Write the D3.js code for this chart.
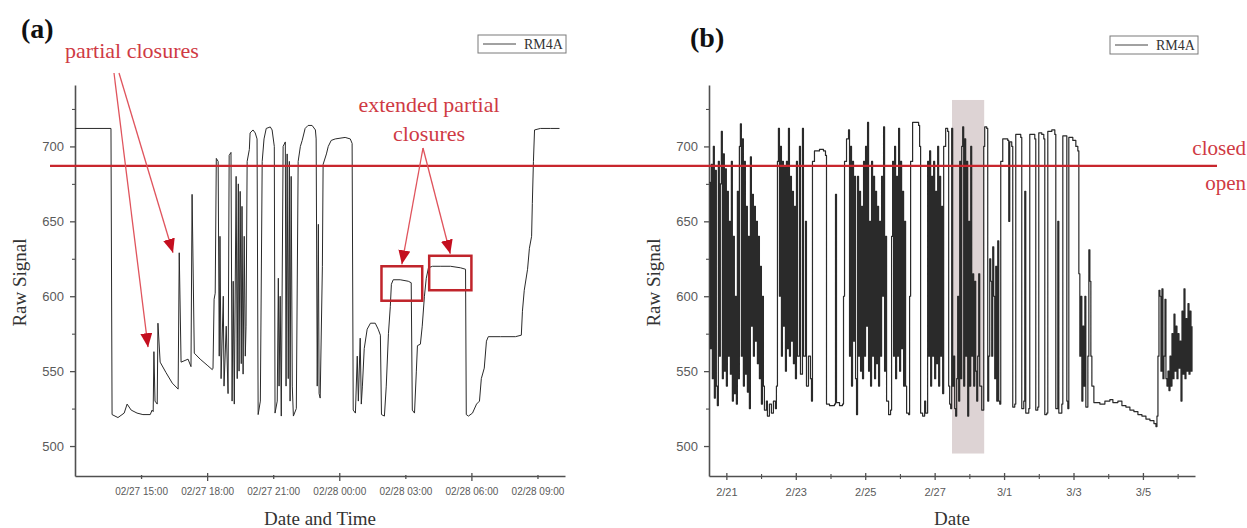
<!DOCTYPE html>
<html>
<head>
<meta charset="utf-8">
<title>RM4A raw signal</title>
<script src="https://cdn.jsdelivr.net/npm/d3@7/dist/d3.min.js"></script>
<style>
  html, body { margin: 0; padding: 0; background: #fff; }
  svg { display: block; }
</style>
</head>
<body>
<svg id="chart" width="1247" height="528"></svg>
<script>
const YEAR = 2017;
const seriesName = "RM4A";

// (a) 27–28 Feb: raw sensor signal
const timeA = [
  "02-27 12:00","02-27 13:38","02-27 13:41","02-27 13:57","02-27 14:14","02-27 14:22","02-27 14:33","02-27 14:49","02-27 15:05","02-27 15:25",
  "02-27 15:30","02-27 15:33","02-27 15:35","02-27 15:38","02-27 15:44","02-27 15:46","02-27 15:52","02-27 16:08","02-27 16:25","02-27 16:41",
  "02-27 16:44","02-27 16:49","02-27 17:08","02-27 17:16","02-27 17:19","02-27 17:25","02-27 17:41","02-27 18:00","02-27 18:14","02-27 18:16",
  "02-27 18:19","02-27 18:22","02-27 18:25","02-27 18:30","02-27 18:33","02-27 18:35","02-27 18:38","02-27 18:44","02-27 18:46","02-27 18:52",
  "02-27 18:57","02-27 19:00","02-27 19:05","02-27 19:08","02-27 19:11","02-27 19:14","02-27 19:19","02-27 19:22","02-27 19:25","02-27 19:27",
  "02-27 19:30","02-27 19:33","02-27 19:35","02-27 19:38","02-27 19:41","02-27 19:44","02-27 19:46","02-27 19:49","02-27 19:55","02-27 19:57",
  "02-27 20:05","02-27 20:11","02-27 20:16","02-27 20:19","02-27 20:25","02-27 20:30","02-27 20:35","02-27 20:41","02-27 20:52","02-27 20:57",
  "02-27 21:03","02-27 21:05","02-27 21:11","02-27 21:14","02-27 21:16","02-27 21:19","02-27 21:22","02-27 21:27","02-27 21:33","02-27 21:35",
  "02-27 21:38","02-27 21:41","02-27 21:44","02-27 21:46","02-27 21:49","02-27 21:52","02-27 21:55","02-27 22:03","02-27 22:08","02-27 22:14",
  "02-27 22:19","02-27 22:27","02-27 22:35","02-27 22:46","02-27 22:55","02-27 22:57","02-27 23:00","02-27 23:03","02-27 23:05","02-27 23:08",
  "02-27 23:14","02-27 23:16","02-27 23:25","02-27 23:30","02-27 23:38","02-27 23:49","02-28 00:16","02-28 00:30","02-28 00:35","02-28 00:38",
  "02-28 00:44","02-28 00:49","02-28 00:52","02-28 00:57","02-28 01:00","02-28 01:03","02-28 01:08","02-28 01:16","02-28 01:25","02-28 01:38",
  "02-28 01:46","02-28 01:52","02-28 01:55","02-28 02:03","02-28 02:08","02-28 02:14","02-28 02:19","02-28 02:22","02-28 02:27","02-28 02:46",
  "02-28 03:08","02-28 03:16","02-28 03:19","02-28 03:25","02-28 03:30","02-28 03:33","02-28 03:41","02-28 03:46","02-28 03:52","02-28 03:57",
  "02-28 04:03","02-28 04:14","02-28 04:35","02-28 05:03","02-28 05:30","02-28 05:44","02-28 05:46","02-28 05:52","02-28 06:03","02-28 06:14",
  "02-28 06:22","02-28 06:27","02-28 06:35","02-28 06:41","02-28 06:46","02-28 07:19","02-28 08:00","02-28 08:16","02-28 08:19","02-28 08:24",
  "02-28 08:33","02-28 08:38","02-28 08:44","02-28 08:46","02-28 08:49","02-28 08:52","02-28 09:08","02-28 09:35","02-28 10:00"
];
const rawA = [
  712,712,521,519,522,528,524,522,521,521,
  524,523,563,530,528,582,556,549,542,538,
  629,556,558,553,668,562,558,554,551,552,
  598,602,692,690,560,640,545,600,540,580,
  535,694,696,530,610,528,680,545,675,550,
  670,555,660,548,640,560,580,690,698,709,
  711,709,705,521,530,690,705,712,713,711,
  700,522,530,612,540,600,520,700,703,540,
  695,545,690,530,680,540,520,525,690,700,
  704,712,714,714,711,705,540,648,535,532,
  620,688,695,700,704,705,706,705,702,524,
  522,560,530,572,528,540,565,578,582,582,
  578,574,521,520,540,575,593,608,611,611,
  610,609,524,522,550,567,568,580,600,612,
  619,620,620,620,619,618,521,520,522,528,
  530,545,552,570,573,573,573,574,590,604,
  618,632,640,662,690,711,712,712,712
];

// (b) 20 Feb – 6 Mar: raw sensor signal
const timeB = [
  "02-20 12:14","02-20 12:55","02-20 13:37","02-20 14:18","02-20 15:00","02-20 15:42","02-20 16:23","02-20 17:05","02-20 17:46","02-20 18:28",
  "02-20 19:09","02-20 19:51","02-20 20:32","02-20 21:14","02-20 21:55","02-20 22:37","02-20 23:18","02-21 00:00","02-21 00:42","02-21 01:23",
  "02-21 02:05","02-21 02:46","02-21 03:28","02-21 04:09","02-21 04:51","02-21 05:32","02-21 06:14","02-21 06:55","02-21 07:37","02-21 08:18",
  "02-21 09:00","02-21 09:42","02-21 10:23","02-21 11:05","02-21 11:46","02-21 12:28","02-21 13:09","02-21 13:51","02-21 14:32","02-21 15:14",
  "02-21 15:55","02-21 16:37","02-21 17:19","02-21 18:00","02-21 18:42","02-21 19:23","02-21 20:05","02-21 20:46","02-21 21:28","02-21 22:09",
  "02-21 22:51","02-21 23:32","02-22 00:14","02-22 00:56","02-22 01:37","02-22 02:19","02-22 03:42","02-22 04:23","02-22 05:46","02-22 07:09",
  "02-22 08:32","02-22 09:56","02-22 10:37","02-22 11:19","02-22 12:00","02-22 12:42","02-22 13:23","02-22 14:05","02-22 14:46","02-22 15:28",
  "02-22 16:09","02-22 16:51","02-22 17:32","02-22 18:14","02-22 18:56","02-22 19:37","02-22 20:19","02-22 21:00","02-22 21:42","02-22 22:23",
  "02-22 23:05","02-22 23:46","02-23 00:28","02-23 01:09","02-23 02:32","02-23 03:14","02-23 04:37","02-23 05:18","02-23 06:41","02-23 07:23",
  "02-23 08:46","02-23 10:09","02-23 10:51","02-23 11:32","02-23 12:55","02-23 16:23","02-23 19:09","02-23 20:32","02-23 21:14","02-23 23:18",
  "02-24 02:46","02-24 03:28","02-24 04:09","02-24 06:14","02-24 08:18","02-24 09:00","02-24 09:42","02-24 11:05","02-24 12:28","02-24 13:09",
  "02-24 13:51","02-24 14:32","02-24 15:14","02-24 15:55","02-24 16:37","02-24 17:19","02-24 18:00","02-24 18:42","02-24 19:23","02-24 20:05",
  "02-24 20:46","02-24 21:28","02-24 22:09","02-24 22:51","02-24 23:32","02-25 00:14","02-25 00:56","02-25 01:37","02-25 02:19","02-25 03:00",
  "02-25 03:42","02-25 04:23","02-25 05:05","02-25 05:46","02-25 06:28","02-25 07:09","02-25 07:51","02-25 08:32","02-25 09:14","02-25 09:56",
  "02-25 10:37","02-25 11:19","02-25 12:00","02-25 12:42","02-25 13:23","02-25 14:05","02-25 14:46","02-25 16:09","02-25 17:32","02-25 18:14",
  "02-25 18:56","02-25 19:37","02-25 20:19","02-25 21:00","02-25 21:42","02-25 22:23","02-25 23:05","02-25 23:46","02-26 00:28","02-26 01:09",
  "02-26 01:51","02-26 02:32","02-26 03:14","02-26 03:55","02-26 04:37","02-26 06:00","02-26 06:41","02-26 07:23","02-26 08:46","02-26 10:51",
  "02-26 12:55","02-26 13:37","02-26 14:18","02-26 15:41","02-26 17:05","02-26 17:46","02-26 19:09","02-26 19:51","02-26 20:32","02-26 21:14",
  "02-26 21:55","02-26 22:37","02-26 23:18","02-27 00:00","02-27 00:42","02-27 01:23","02-27 02:05","02-27 02:46","02-27 03:28","02-27 04:09",
  "02-27 04:51","02-27 05:32","02-27 06:14","02-27 07:37","02-27 09:00","02-27 09:42","02-27 10:23","02-27 11:05","02-27 11:46","02-27 12:28",
  "02-27 13:09","02-27 13:51","02-27 14:32","02-27 15:14","02-27 15:55","02-27 16:37","02-27 17:19","02-27 18:00","02-27 18:42","02-27 19:23",
  "02-27 20:05","02-27 20:46","02-27 21:28","02-27 22:09","02-27 22:51","02-27 23:32","02-28 00:14","02-28 00:56","02-28 01:37","02-28 02:19",
  "02-28 03:00","02-28 03:42","02-28 04:23","02-28 05:05","02-28 05:46","02-28 06:28","02-28 07:09","02-28 08:32","02-28 09:56","02-28 10:37",
  "02-28 12:00","02-28 12:42","02-28 13:23","02-28 14:05","02-28 14:46","02-28 15:28","02-28 16:09","02-28 16:51","02-28 17:32","02-28 18:14",
  "02-28 18:56","02-28 19:37","02-28 20:19","02-28 21:00","02-28 21:42","02-28 23:05","03-01 01:09","03-01 02:32","03-01 03:14","03-01 03:55",
  "03-01 05:18","03-01 06:00","03-01 07:23","03-01 08:05","03-01 10:09","03-01 11:32","03-01 12:14","03-01 13:37","03-01 14:18","03-01 15:00",
  "03-01 17:05","03-01 17:46","03-01 19:51","03-01 21:14","03-01 21:55","03-01 23:18","03-02 00:00","03-02 02:05","03-02 03:28","03-02 04:09",
  "03-02 05:32","03-02 06:14","03-02 09:00","03-02 11:05","03-02 11:46","03-02 13:09","03-02 13:51","03-02 15:55","03-02 16:37","03-02 18:42",
  "03-02 19:23","03-02 20:05","03-02 20:46","03-02 23:32","03-03 01:37","03-03 03:00","03-03 03:42","03-03 04:23","03-03 05:05","03-03 05:46",
  "03-03 06:28","03-03 07:09","03-03 07:51","03-03 08:32","03-03 09:56","03-03 10:37","03-03 11:19","03-03 12:00","03-03 12:42","03-03 14:05",
  "03-03 18:14","03-03 21:42","03-04 01:09","03-04 03:14","03-04 06:41","03-04 09:28","03-04 12:14","03-04 15:00","03-04 17:46","03-04 20:32",
  "03-04 23:18","03-05 02:05","03-05 04:51","03-05 07:37","03-05 09:00","03-05 09:42","03-05 10:23","03-05 11:05","03-05 11:46","03-05 12:28",
  "03-05 13:09","03-05 13:51","03-05 14:32","03-05 15:14","03-05 15:55","03-05 16:37","03-05 17:19","03-05 18:00","03-05 18:42","03-05 19:23",
  "03-05 20:05","03-05 20:46","03-05 21:28","03-05 22:09","03-05 22:51","03-05 23:32","03-06 00:14","03-06 00:56","03-06 01:37","03-06 02:19",
  "03-06 03:00","03-06 03:42","03-06 04:23","03-06 05:05","03-06 05:46","03-06 06:28","03-06 07:09","03-06 07:51","03-06 08:32","03-06 09:14",
  "03-06 09:56"
];
const rawB = [
  676,565,688,545,700,532,684,540,527,690,
  560,675,710,545,695,550,685,540,670,560,
  650,548,690,530,640,535,600,528,670,545,
  700,715,560,705,540,690,548,660,536,640,
  525,693,580,668,560,660,570,650,555,640,
  545,620,528,600,540,524,530,520,528,522,
  530,525,540,690,712,600,700,560,690,580,
  686,550,690,565,712,560,680,570,670,555,
  660,545,690,560,700,548,712,560,650,540,
  560,545,530,690,697,698,697,694,528,527,
  528,668,529,527,528,600,690,705,711,560,
  700,540,690,570,680,545,521,680,560,670,
  550,660,545,690,560,700,580,716,550,650,
  540,690,560,680,545,670,555,660,540,650,
  560,680,600,713,550,640,530,521,524,640,
  690,560,700,545,680,560,712,550,690,565,
  670,540,650,540,522,521,600,690,716,716,
  714,700,522,520,530,522,690,560,697,540,
  680,560,690,545,670,555,700,540,680,560,
  660,535,700,712,710,540,528,525,712,540,
  560,525,520,545,600,530,690,545,700,713,
  540,705,560,690,520,650,540,700,560,615,
  540,610,550,530,560,615,540,524,700,713,
  712,530,560,625,610,560,633,600,545,620,
  530,637,530,528,690,705,705,704,650,703,
  700,526,528,708,708,706,525,530,670,522,
  525,708,708,705,524,526,709,708,705,521,
  522,710,711,708,525,650,522,528,707,707,
  530,525,706,704,700,697,615,560,600,530,
  580,540,600,526,560,631,610,560,540,529,
  528,530,531,529,530,527,526,524,523,521,
  520,518,517,515,513,520,560,604,600,550,
  605,545,560,598,545,540,550,537,560,540,
  575,545,588,550,580,545,575,552,570,530,
  590,548,605,545,585,550,595,548,590,550,
  580
];

// Axis windows and ticks
const domainA = ["02-27 12:00", "02-28 10:15"];
const domainB = ["02-20 12:00", "03-06 12:00"];
const valueDomain = [480, 741];
const valueTicks = [500, 550, 600, 650, 700];
const valueMinorTicks = [525, 575, 625, 675, 725];
const ticksA = ["02-27 15:00","02-27 18:00","02-27 21:00","02-28 00:00","02-28 03:00","02-28 06:00","02-28 09:00"];
const ticksB = ["02-21","02-23","02-25","02-27","03-01","03-03","03-05"];
const minorTicksB = ["02-22","02-24","02-26","02-28","03-02","03-04","03-06"];

// Closed/open threshold and the window of (a) highlighted in (b)
const closedOpenThreshold = 687;
const highlightValues = [495, 731];

// Annotated events in (a)
const partialTime = ["02-27 15:19", "02-27 16:27"];
const partialValue = [566, 629];
const extendedStart = ["02-28 01:55", "02-28 04:05"];
const extendedEnd = ["02-28 03:46", "02-28 06:00"];
const extendedLow = [597, 604];
const extendedHigh = [620, 627];

// ---------------------------------------------------------------------
const parse = d3.timeParse("%Y-%m-%d %H:%M");
const at = s => parse(`${YEAR}-${s.length === 5 ? s + " 00:00" : s}`);

const SERIF = "'Liberation Serif', 'Times New Roman', serif";
const SANS = "'Liberation Sans', Arial, sans-serif";
const AXIS = "#505050";
const RED_LINE = "#c8262d";
const RED_TEXT = "#cf3a44";
const RED_ARROW = "#e0545d";
const RED_HEAD = "#c40f1f";

const svg = d3.select("#chart");
const plotTop = 85, plotBottom = 476;
const panels = [
  { left: 75, right: 565, domain: domainA, times: timeA, values: rawA, curve: d3.curveLinear, width: 1 },
  { left: 709, right: 1195, domain: domainB, times: timeB, values: rawB, curve: d3.curveStepAfter, width: 1.2 }
];

const y = d3.scaleLinear().domain(valueDomain).range([plotBottom, plotTop]);
panels.forEach(p => {
  p.x = d3.scaleTime().domain(p.domain.map(at)).range([p.left, p.right]);
  p.data = p.times.map((t, i) => ({ t: at(t), v: p.values[i] }));
});
const [pa, pb] = panels;

const defs = svg.append("defs");
defs.append("marker")
  .attr("id", "head")
  .attr("viewBox", "0 -6 14 12")
  .attr("refX", 14).attr("refY", 0)
  .attr("markerWidth", 14).attr("markerHeight", 12)
  .attr("markerUnits", "userSpaceOnUse")
  .attr("orient", "auto")
  .append("path").attr("d", "M0,-6L14,0L0,6Z").attr("fill", RED_HEAD);

// Shaded band in (b): the time window plotted in (a)
svg.append("rect")
  .attr("x", pb.x(at(domainA[0])))
  .attr("width", pb.x(at(domainA[1])) - pb.x(at(domainA[0])))
  .attr("y", y(highlightValues[1]))
  .attr("height", y(highlightValues[0]) - y(highlightValues[1]))
  .attr("fill", "#ddd3d4");

// Axes
function styleAxis(g) {
  g.select(".domain").attr("stroke", AXIS).attr("stroke-width", 1.6);
  g.selectAll(".tick line").attr("stroke", AXIS).attr("stroke-width", 1.3);
  g.selectAll(".tick text").attr("fill", "#5a5a5a").attr("font-family", SANS);
}

panels.forEach(p => {
  const gy = svg.append("g").attr("transform", `translate(${p.left},0)`)
    .call(d3.axisLeft(y).tickValues(valueTicks).tickSize(5).tickSizeOuter(0).tickPadding(6).tickFormat(d3.format("d")));
  styleAxis(gy);
  gy.selectAll(".tick text").attr("font-size", 13);
  const gym = svg.append("g").attr("transform", `translate(${p.left},0)`)
    .call(d3.axisLeft(y).tickValues(valueMinorTicks).tickSize(3).tickFormat(""));
  gym.select(".domain").remove();
  gym.selectAll(".tick line").attr("stroke", AXIS).attr("stroke-width", 1.1);

  svg.append("text")
    .attr("transform", `translate(${p.left - 49},${(plotTop + plotBottom) / 2 + 2}) rotate(-90)`)
    .attr("text-anchor", "middle")
    .attr("font-family", SERIF).attr("font-size", 19).attr("fill", "#333")
    .text("Raw Signal");
});

// (a) date-time axis
const gxA = svg.append("g").attr("transform", `translate(0,${plotBottom})`)
  .call(d3.axisBottom(pa.x).tickValues(ticksA.map(at)).tickSize(4).tickSizeOuter(0).tickPadding(8)
    .tickFormat(d3.timeFormat("%m/%d %H:%M")));
styleAxis(gxA);
gxA.selectAll(".tick line").attr("y1", (d, i) => i % 2 ? -3 : -1).attr("y2", (d, i) => i % 2 ? 5 : 3);
gxA.selectAll(".tick text").attr("font-size", 10);

// (b) date axis
const gxB = svg.append("g").attr("transform", `translate(0,${plotBottom})`)
  .call(d3.axisBottom(pb.x).tickValues(ticksB.map(at)).tickSize(4).tickSizeOuter(0).tickPadding(8)
    .tickFormat(d3.timeFormat("%-m/%-d")));
styleAxis(gxB);
gxB.selectAll(".tick line").attr("y1", -3);
gxB.selectAll(".tick text").attr("font-size", 11);
const gxBm = svg.append("g").attr("transform", `translate(0,${plotBottom})`)
  .call(d3.axisBottom(pb.x).tickValues(minorTicksB.map(at)).tickSize(3).tickFormat(""));
gxBm.select(".domain").remove();
gxBm.selectAll(".tick line").attr("stroke", AXIS).attr("stroke-width", 1.1).attr("y1", -2);

svg.append("text").attr("x", (pa.left + pa.right) / 2).attr("y", 525)
  .attr("text-anchor", "middle").attr("font-family", SERIF).attr("font-size", 19).attr("fill", "#333")
  .text("Date and Time");
svg.append("text").attr("x", (pb.left + pb.right) / 2).attr("y", 525)
  .attr("text-anchor", "middle").attr("font-family", SERIF).attr("font-size", 19).attr("fill", "#333")
  .text("Date");

// Signal traces
panels.forEach(p => {
  svg.append("path")
    .datum(p.data)
    .attr("fill", "none")
    .attr("stroke", "#2a2a2a")
    .attr("stroke-width", p.width)
    .attr("stroke-linejoin", "round")
    .attr("d", d3.line().curve(p.curve).x(d => p.x(d.t)).y(d => y(d.v)));
});

// Legends
[[478, 35], [1110, 36]].forEach(([lx, ly]) => {
  const g = svg.append("g").attr("transform", `translate(${lx},${ly})`);
  g.append("rect").attr("width", 88).attr("height", 18)
    .attr("fill", "#fff").attr("stroke", "#7a7a7a").attr("stroke-width", 1);
  g.append("line").attr("x1", 5).attr("x2", 38).attr("y1", 9).attr("y2", 9)
    .attr("stroke", "#444").attr("stroke-width", 1);
  g.append("text").attr("x", 46).attr("y", 14)
    .attr("font-family", SERIF).attr("font-size", 14).attr("fill", "#333")
    .text(seriesName);
});

// Panel letters
svg.append("text").attr("x", 21).attr("y", 38).attr("font-family", SERIF).attr("font-weight", "bold")
  .attr("font-size", 28).attr("fill", "#111").text("(a)");
svg.append("text").attr("x", 690).attr("y", 47).attr("font-family", SERIF).attr("font-weight", "bold")
  .attr("font-size", 28).attr("fill", "#111").text("(b)");

// Closed/open threshold across both panels
const yThr = y(closedOpenThreshold);
svg.append("line").attr("x1", 50).attr("x2", 1217).attr("y1", yThr).attr("y2", yThr)
  .attr("stroke", RED_LINE).attr("stroke-width", 2.2);
svg.append("text").attr("x", 1246).attr("y", yThr - 11).attr("text-anchor", "end")
  .attr("font-family", SERIF).attr("font-size", 21).attr("fill", RED_TEXT).text("closed");
svg.append("text").attr("x", 1246).attr("y", yThr + 24).attr("text-anchor", "end")
  .attr("font-family", SERIF).attr("font-size", 21).attr("fill", RED_TEXT).text("open");

// "partial closures" annotation
svg.append("text").attr("x", 65).attr("y", 58)
  .attr("font-family", SERIF).attr("font-size", 22).attr("fill", RED_TEXT).text("partial closures");
const partialOrigins = [[114, 73], [119, 73]];
partialTime.forEach((t, i) => {
  svg.append("line")
    .attr("x1", partialOrigins[i][0]).attr("y1", partialOrigins[i][1])
    .attr("x2", pa.x(at(t))).attr("y2", y(partialValue[i]))
    .attr("stroke", RED_ARROW).attr("stroke-width", 1.3)
    .attr("marker-end", "url(#head)");
});

// "extended partial closures" annotation with boxes
svg.append("text").attr("x", 429).attr("y", 112).attr("text-anchor", "middle")
  .attr("font-family", SERIF).attr("font-size", 22).attr("fill", RED_TEXT).text("extended partial");
svg.append("text").attr("x", 429).attr("y", 141).attr("text-anchor", "middle")
  .attr("font-family", SERIF).attr("font-size", 22).attr("fill", RED_TEXT).text("closures");
extendedStart.forEach((t, i) => {
  const x0 = pa.x(at(t)), x1 = pa.x(at(extendedEnd[i]));
  const y0 = y(extendedHigh[i]), y1 = y(extendedLow[i]);
  svg.append("rect").attr("x", x0).attr("y", y0).attr("width", x1 - x0).attr("height", y1 - y0)
    .attr("fill", "none").attr("stroke", "#c0242b").attr("stroke-width", 2.5);
  svg.append("line")
    .attr("x1", 423).attr("y1", 148)
    .attr("x2", (x0 + x1) / 2).attr("y2", y0 - 2)
    .attr("stroke", RED_ARROW).attr("stroke-width", 1.3)
    .attr("marker-end", "url(#head)");
});
</script>
</body>
</html>
